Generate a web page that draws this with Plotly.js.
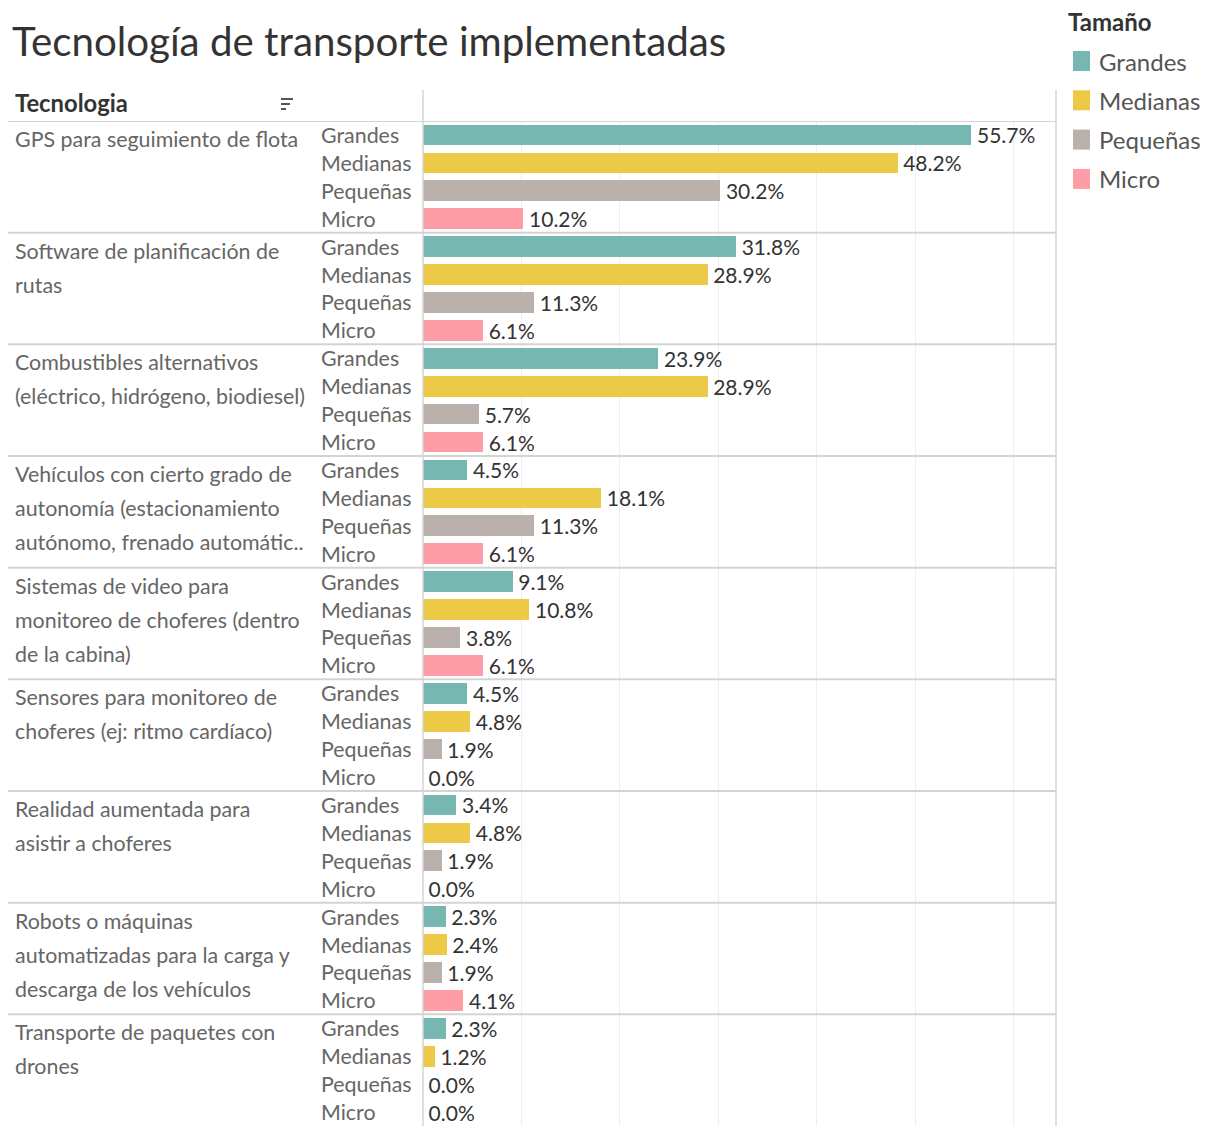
<!DOCTYPE html>
<html>
<head>
<meta charset="utf-8">
<script src="https://cdn.plot.ly/plotly-3.0.1.min.js"></script>
<style>body{margin:0;padding:0;background:#fff;} #chart{width:1210px;height:1126px;}</style>
</head>
<body>
<div id="chart"></div>
<script>
// ---- data ----
const technologies = [
  "GPS para seguimiento de flota",
  "Software de planificación de<br>rutas",
  "Combustibles alternativos<br>(eléctrico, hidrógeno, biodiesel)",
  "Vehículos con cierto grado de<br>autonomía (estacionamiento<br>autónomo, frenado automátic..",
  "Sistemas de video para<br>monitoreo de choferes (dentro<br>de la cabina)",
  "Sensores para monitoreo de<br>choferes (ej: ritmo cardíaco)",
  "Realidad aumentada para<br>asistir a choferes",
  "Robots o máquinas<br>automatizadas para la carga y<br>descarga de los vehículos",
  "Transporte de paquetes con<br>drones"
];
const sizes = ["Grandes", "Medianas", "Pequeñas", "Micro"];
const grandes  = [55.7, 31.8, 23.9, 4.5, 9.1, 4.5, 3.4, 2.3, 2.3];
const medianas = [48.2, 28.9, 28.9, 18.1, 10.8, 4.8, 4.8, 2.4, 1.2];
const pequenas = [30.2, 11.3, 5.7, 11.3, 3.8, 1.9, 1.9, 1.9, 0.0];
const micro    = [10.2, 6.1, 6.1, 6.1, 6.1, 0.0, 0.0, 4.1, 0.0];
const colors = ["#76b7b2", "#edc948", "#bab0ac", "#ff9da7"];

const seriesValues = [grandes, medianas, pequenas, micro];
const nG = technologies.length;
const nS = sizes.length;

const FONT = "Lato, sans-serif";

const traces = seriesValues.map((vals, s) => ({
  type: 'bar',
  orientation: 'h',
  name: sizes[s],
  x: vals,
  y: vals.map((v, g) => g * nS + s),
  marker: {color: colors[s], line: {width: 0}},
  width: 0.74,
  text: vals.map(v => '\u2009' + v.toFixed(1) + '%'),
  textposition: 'outside',
  constraintext: 'none',
  cliponaxis: false,
  textfont: {family: FONT, size: 21, color: '#333333'},
  showlegend: false,
  hoverinfo: 'x+name'
}));

const annotations = [];
const shapes = [];
const pxX = px => (px - 423) / (1056 - 423);

// size labels
for (let g = 0; g < nG; g++) {
  for (let s = 0; s < nS; s++) {
    annotations.push({
      xref: 'paper', yref: 'y', x: pxX(319), y: g * nS + s,
      xanchor: 'left', yanchor: 'middle', showarrow: false,
      text: sizes[s], font: {family: FONT, size: 21.4, color: '#666666'}
    });
  }
  // technology label lines
  const lines = technologies[g].split('<br>');
  lines.forEach((ln, i) => {
    annotations.push({
      xref: 'paper', yref: 'y', x: pxX(13), y: g * nS,
      xanchor: 'left', yanchor: 'middle', yshift: -4 - 34 * i, showarrow: false,
      text: ln, font: {family: FONT, size: 21.4, color: '#666666'}
    });
  });
  // separator lines
  shapes.push({
    type: 'line', xref: 'paper', yref: 'y', x0: pxX(8), x1: 1,
    y0: g * nS - 0.5, y1: g * nS - 0.5, line: {color: '#d4d4d4', width: 2}, layer: 'above'
  });
}

// axis lines (zero line + right border)
shapes.push({type: 'line', xref: 'paper', yref: 'paper', x0: 0, x1: 0, y0: 0, y1: (1126 - 90) / 1005, line: {color: '#d4d4d4', width: 1.5}});
shapes.push({type: 'line', xref: 'paper', yref: 'paper', x0: 1, x1: 1, y0: 0, y1: (1126 - 90) / 1005, line: {color: '#d4d4d4', width: 1.5}});

// header
annotations.push({
  xref: 'paper', yref: 'paper', x: pxX(13), y: (1126 - 103) / 1005, xanchor: 'left', yanchor: 'middle',
  showarrow: false, text: '<b>Tecnologia</b>', font: {family: FONT, size: 23.8, color: '#333333'}
});
// sort icon
[[0, 12], [1, 9], [2, 5]].forEach(([i, w]) => {
  shapes.push({type: 'line', xref: 'paper', yref: 'paper', x0: pxX(281), x1: pxX(281 + w),
    y0: (1126 - (99 + 5 * i)) / 1005, y1: (1126 - (99 + 5 * i)) / 1005, line: {color: '#555', width: 2}});
});

// legend (manual)
annotations.push({
  xref: 'paper', yref: 'paper', x: pxX(1066), y: (1126 - 22) / 1005, xanchor: 'left', yanchor: 'middle',
  showarrow: false, text: '<b>Tamaño</b>', font: {family: FONT, size: 24, color: '#333333'}
});
sizes.forEach((nm, s) => {
  const cy = 61 + 39.3 * s;
  shapes.push({type: 'rect', xref: 'paper', yref: 'paper', x0: pxX(1073), x1: pxX(1090),
    y0: (1126 - (cy - 10)) / 1005, y1: (1126 - (cy + 10)) / 1005, fillcolor: colors[s], line: {width: 0}});
  annotations.push({
    xref: 'paper', yref: 'paper', x: pxX(1097), y: (1126 - cy) / 1005, xanchor: 'left', yanchor: 'middle',
    showarrow: false, text: nm, font: {family: FONT, size: 24, color: '#555555'}
  });
});

const layout = {
  width: 1210, height: 1126,
  margin: {l: 423, r: 154, t: 121, b: 0, pad: 0},
  paper_bgcolor: '#ffffff', plot_bgcolor: '#ffffff',
  title: {
    text: 'Tecnología de transporte implementadas',
    xref: 'container', yref: 'container', x: 12 / 1210, xanchor: 'left',
    y: 1 - 42 / 1126, yanchor: 'middle',
    font: {family: FONT, size: 40.3, color: '#333333'}
  },
  xaxis: {
    range: [0, 64.3], dtick: 10, tick0: 0, showticklabels: false, ticks: '',
    showgrid: true, gridcolor: '#eeeeee', gridwidth: 1, zeroline: false, showline: false, fixedrange: true
  },
  yaxis: {
    range: [nG * nS - 0.5, -0.5], showticklabels: false, ticks: '', showgrid: false,
    zeroline: false, showline: false, fixedrange: true
  },
  bargap: 0, showlegend: false,
  annotations: annotations, shapes: shapes,
  font: {family: FONT}
};

Plotly.newPlot('chart', traces, layout, {displayModeBar: false, staticPlot: true});
</script>
</body>
</html>
